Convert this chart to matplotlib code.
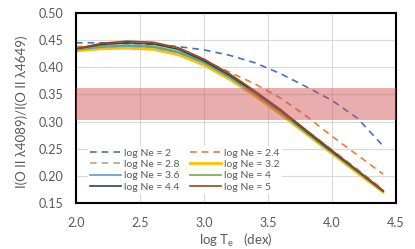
import matplotlib
matplotlib.use("Agg")
import matplotlib.pyplot as plt

plt.rcParams["font.family"] = ["Lato", "DejaVu Sans"]

# log Te grid (dex)
log_te = [2.0, 2.2, 2.4, 2.6, 2.8, 3.0, 3.2, 3.4, 3.6, 3.8, 4.0, 4.2, 4.4]

# line ratio I(4089)/I(4649) for each log Ne
ne_2 = [0.445, 0.445, 0.444, 0.442, 0.438, 0.432, 0.422, 0.408, 0.388, 0.364, 0.339, 0.306, 0.255]
ne_2_4 = [0.438, 0.440, 0.440, 0.437, 0.428, 0.412, 0.391, 0.369, 0.343, 0.310, 0.273, 0.238, 0.203]
ne_2_8 = [0.433, 0.436, 0.437, 0.435, 0.426, 0.408, 0.383, 0.353, 0.320, 0.284, 0.248, 0.212, 0.175]
ne_3_2 = [0.430, 0.434, 0.435, 0.433, 0.423, 0.404, 0.378, 0.347, 0.313, 0.277, 0.241, 0.205, 0.170]
ne_3_6 = [0.432, 0.437, 0.439, 0.437, 0.427, 0.408, 0.381, 0.350, 0.316, 0.279, 0.243, 0.207, 0.171]
ne_4 = [0.433, 0.439, 0.441, 0.439, 0.429, 0.410, 0.383, 0.352, 0.318, 0.280, 0.244, 0.208, 0.172]
ne_4_4 = [0.434, 0.442, 0.445, 0.443, 0.433, 0.412, 0.385, 0.354, 0.320, 0.282, 0.245, 0.209, 0.172]
ne_5 = [0.434, 0.444, 0.448, 0.446, 0.436, 0.415, 0.388, 0.356, 0.322, 0.284, 0.247, 0.210, 0.173]

# observed ratio range
obs_low, obs_high = 0.303, 0.361

series = [
    ("log Ne = 2", ne_2, "#4472C4", (0, (4, 3))),
    ("log Ne = 2.4", ne_2_4, "#ED7D31", (0, (4, 3))),
    ("log Ne = 2.8", ne_2_8, "#A5A5A5", (0, (4, 3))),
    ("log Ne = 3.2", ne_3_2, "#FFC000", "-"),
    ("log Ne = 3.6", ne_3_6, "#5B9BD5", "-"),
    ("log Ne = 4", ne_4, "#70AD47", "-"),
    ("log Ne = 4.4", ne_4_4, "#264478", "-"),
    ("log Ne = 5", ne_5, "#9E480E", "-"),
]

fig = plt.figure(figsize=(4.15, 2.49), dpi=100)
ax = fig.add_axes([0.183, 0.185, 0.771, 0.763])

handles = {}
for label, vals, color, ls in series:
    lw = 2.0 if label == "log Ne = 3.2" else 1.2
    (h,) = ax.plot(log_te, vals, color=color, linestyle=ls, linewidth=lw, label=label)
    handles[label] = h

ax.axhspan(obs_low, obs_high, color="#d04a4a", alpha=0.45, linewidth=0, zorder=5)

ax.set_xlim(2.0, 4.5)
ax.set_ylim(0.15, 0.50)
ax.set_xticks([2.0, 2.5, 3.0, 3.5, 4.0, 4.5])
ax.set_yticks([0.15, 0.20, 0.25, 0.30, 0.35, 0.40, 0.45, 0.50])
ax.xaxis.set_major_formatter(matplotlib.ticker.FormatStrFormatter("%.1f"))
ax.yaxis.set_major_formatter(matplotlib.ticker.FormatStrFormatter("%.2f"))
ax.grid(True, color="#d9d9d9", linewidth=0.8, zorder=0)
ax.set_axisbelow(True)
ax.tick_params(axis="y", length=0, labelsize=9, labelcolor="#595959", pad=9)
ax.tick_params(axis="x", length=0, labelsize=9, labelcolor="#595959", pad=10)
for sp in ax.spines.values():
    sp.set_linewidth(1.5)
    sp.set_color("black")

ax.set_ylabel("I(O II λ4089)/I(O II λ4649)", fontsize=9.5, color="#595959")
ax.yaxis.set_label_coords(-0.15, 0.48)
ax.set_xlabel("log T$_\\mathregular{e}$   (dex)", fontsize=9.5, color="#595959", labelpad=2)

order = ["log Ne = 2", "log Ne = 2.8", "log Ne = 3.6", "log Ne = 4.4",
         "log Ne = 2.4", "log Ne = 3.2", "log Ne = 4", "log Ne = 5"]
leg = ax.legend([handles[k] for k in order], order, ncol=2, loc="lower left",
                bbox_to_anchor=(0.02, 0.02), fontsize=7.5, frameon=True,
                handlelength=3.0, handletextpad=0.3, columnspacing=1.0,
                labelspacing=0.2, borderpad=0.2, labelcolor="#595959")
leg.get_frame().set_facecolor("white")
leg.get_frame().set_edgecolor("none")
leg.get_frame().set_alpha(1.0)
leg.set_zorder(6)

fig.savefig("out.png", dpi=100)
